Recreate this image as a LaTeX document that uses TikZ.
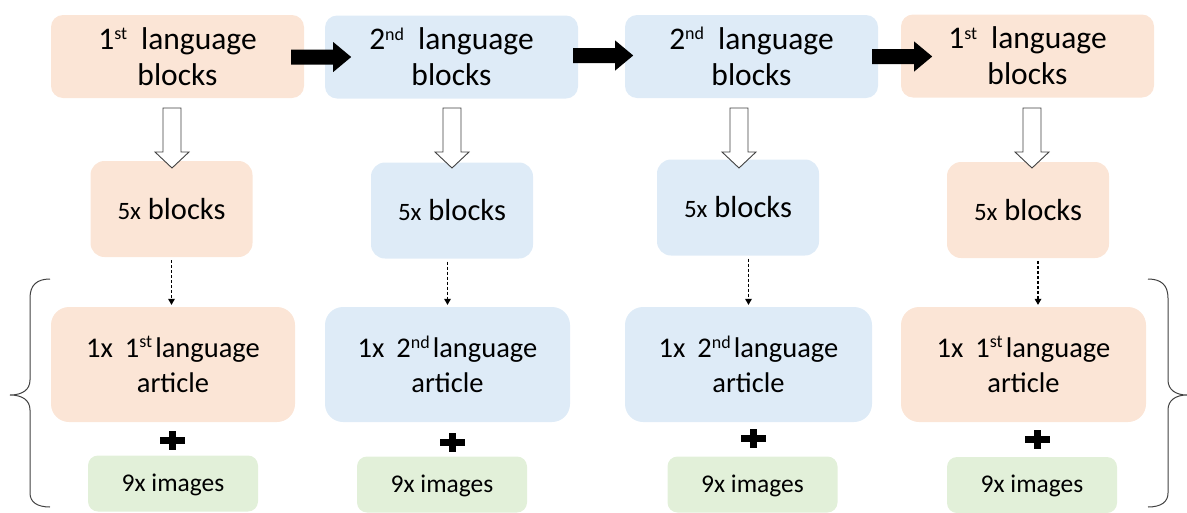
\documentclass[tikz,border=0pt]{standalone}
\usepackage{fontspec}
\setmainfont{Carlito}
\usetikzlibrary{arrows.meta,calc}
\definecolor{orfill}{HTML}{FBE5D6}
\definecolor{blfill}{HTML}{DEEBF7}
\definecolor{grfill}{HTML}{E2F0D9}
\definecolor{outl}{HTML}{404040}
\newcommand\supx[1]{\raisebox{9.5pt}{\fontsize{18}{18}\selectfont #1}}
\newcommand\smallfive{{\fontsize{25}{29}\selectfont 5x}}
\begin{document}
\begin{tikzpicture}[x=1pt,y=-1pt,
  box/.style={rectangle, inner sep=0pt, align=center, text=black},
  obox/.style={box, fill=orfill},
  bbox/.style={box, fill=blfill},
  topbox/.style={rounded corners=12pt, minimum width=253pt, minimum height=83pt, font=\fontsize{31.5}{36}\selectfont},
  midbox/.style={rounded corners=14pt, minimum width=162pt, minimum height=96pt, font=\fontsize{30.5}{36}\selectfont},
  artbox/.style={rounded corners=18pt, minimum height=115pt, font=\fontsize{28.5}{35}\selectfont},
  gbox/.style={box, fill=grfill, rounded corners=10pt, minimum width=170pt, minimum height=56pt, text height=15pt, text depth=0pt, font=\fontsize{25.5}{30}\selectfont},
  dasharrow/.style={line width=1.2pt, dash pattern=on 3pt off 2pt, -{Triangle[width=7pt,length=6pt,line width=0pt]}, shorten <=3pt, shorten >=2pt},
  bracestyle/.style={draw=outl, line width=1pt},
  plussign/.pic={\fill[black] (-12.5,-3.5) rectangle (12.5,3.5); \fill[black] (-3.5,-9.5) rectangle (3.5,9.5);},
  hollowarrow/.pic={\draw[fill=white, draw=outl, line width=0.9pt] (-9,0) -- (9,0) -- (9,44) -- (17,44) -- (0,60) -- (-17,44) -- (-9,44) -- cycle;},
  blackarrow/.pic={\fill[black] (0,-7.5) -- (42,-7.5) -- (42,-15) -- (60,0) -- (42,15) -- (42,7.5) -- (0,7.5) -- cycle;}
]
\useasboundingbox (0,0) rectangle (1187,512);

% top row
\node[obox, topbox] (t1) at (177.5,56.5) {1\supx{st}\hspace{14pt}language\\blocks};
\node[bbox, topbox] (t2) at (451.5,57) {2\supx{nd}\hspace{14pt}language\\blocks};
\node[bbox, topbox] (t3) at (751.5,56.5) {2\supx{nd}\hspace{14pt}language\\blocks};
\node[obox, topbox] (t4) at (1027.5,56) {1\supx{st}\hspace{14pt}language\\blocks};

% middle row
\node[obox, midbox] (b1) at (171.5,209) {\smallfive{} blocks};
\node[bbox, midbox] (b2) at (452,210.5) {\smallfive{} blocks};
\node[bbox, midbox] (b3) at (738,207.5) {\smallfive{} blocks};
\node[obox, midbox] (b4) at (1028,210) {\smallfive{} blocks};

% article row
\node[obox, artbox, minimum width=244pt] (a1) at (173,364.5) {1x\hspace{12pt}1\supx{st}\hspace{3pt}language\\article};
\node[bbox, artbox, minimum width=245pt] (a2) at (447.5,364.5) {1x\hspace{12pt}2\supx{nd}\hspace{3pt}language\\article};
\node[bbox, artbox, minimum width=247pt] (a3) at (748.5,364.5) {1x\hspace{12pt}2\supx{nd}\hspace{3pt}language\\article};
\node[obox, artbox, minimum width=245pt] (a4) at (1023.5,364.5) {1x\hspace{12pt}1\supx{st}\hspace{3pt}language\\article};

% images row
\node[gbox] (g1) at (173,483.5) {9x images};
\node[gbox] (g2) at (442,484.5) {9x images};
\node[gbox] (g3) at (752.5,484.5) {9x images};
\node[gbox] (g4) at (1032,485) {9x images};

% black arrows (start inside the left box, tip inside the right box)
\pic at ($(t1.east)+(-13,0.5)$) {blackarrow};
\pic at ($(t2.east)+(-5,-1.5)$) {blackarrow};
\pic at ($(t3.east)+(-6,0)$) {blackarrow};

% hollow arrows
\pic at (172,108) {hollowarrow};
\pic at (452,108) {hollowarrow};
\pic at (739,108) {hollowarrow};
\pic at (1032,108) {hollowarrow};

% dashed arrows
\draw[dasharrow] (b1.south) -- (b1.south |- a1.north);
\draw[dasharrow] (a2.north |- b2.south) -- (a2.north);
\draw[dasharrow] (a3.north |- b3.south) -- (a3.north);
\draw[dasharrow] ($(b4.south)+(10,0)$) -- ($(a4.north)+(14.5,0)$);

% plus signs
\pic at (172,440) {plussign};
\pic at (452,442) {plussign};
\pic at (753,438) {plussign};
\pic at (1037,439) {plussign};

% braces
\draw[bracestyle] (50,279) .. controls (37,279) and (30,285) .. (30,298) -- (30,380) .. controls (30,390) and (22,395) .. (10,395) .. controls (22,395) and (30,400) .. (30,410) -- (30,493) .. controls (30,502) and (37,507) .. (50,507);
\draw[bracestyle] (1148,279) .. controls (1161,279) and (1168,285) .. (1168,298) -- (1168,380) .. controls (1168,390) and (1176,395) .. (1187,395) .. controls (1176,395) and (1168,400) .. (1168,410) -- (1168,493) .. controls (1168,502) and (1161,507) .. (1148,507);
\end{tikzpicture}
\end{document}
